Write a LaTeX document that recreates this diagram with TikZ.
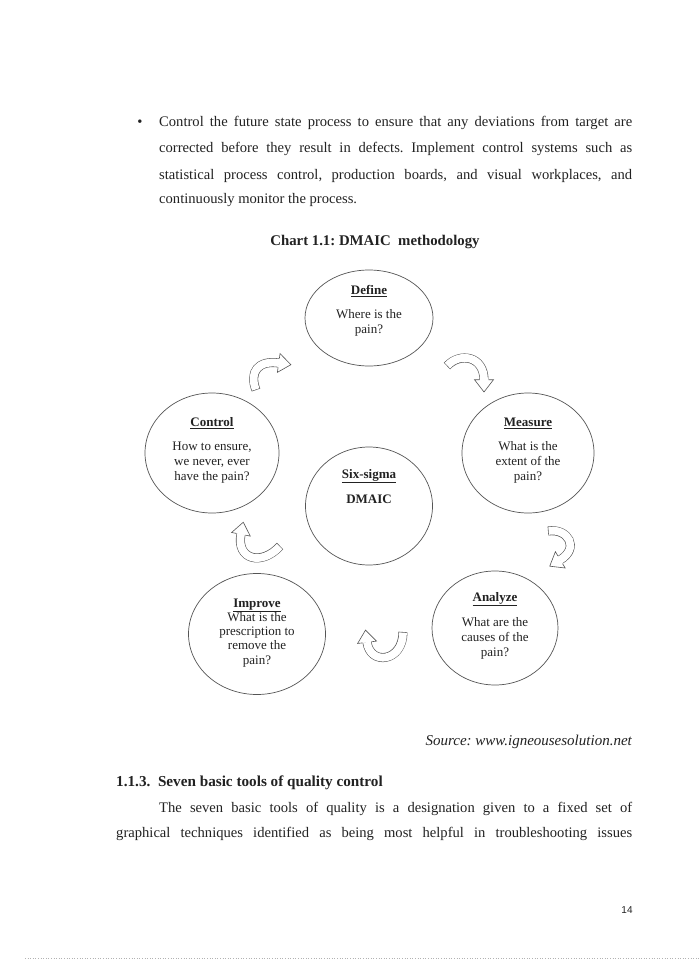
\documentclass[tikz,border=0pt]{standalone}
\usepackage{fontspec}
\setmainfont{Liberation Serif}
\setsansfont{Liberation Sans}
\usetikzlibrary{shapes.geometric}
\definecolor{linegray}{HTML}{555555}
\definecolor{txt}{HTML}{222222}
\newcommand{\blockarr}[8]{%
  \draw[band] (#1,#2) .. controls (#3,#4) and (#5,#6) .. (#7,#8);
  \draw[bandin] (#1,#2) .. controls (#3,#4) and (#5,#6) .. (#7,#8);
  \pgfmathsetmacro\arang{atan2(-((#8)-(#6)),(#7)-(#5))}%
  \begin{scope}[shift={(#7,#8)},rotate=\arang]
    \fill[white] (-0.3,-9.5) -- (12,0) -- (-0.3,9.5) -- cycle;
    \draw[linegray,line width=.6pt,line join=miter] (-0.3,-4.5) -- (-0.3,-9.5) -- (12,0) -- (-0.3,9.5) -- (-0.3,4.5);
  \end{scope}}
\begin{document}
\frenchspacing
\begin{tikzpicture}[x=1pt,y=-1pt,
  ell/.style={ellipse,draw=linegray,line width=.7pt,inner sep=0pt},
  cl/.style={inner sep=0pt,text height=8.5pt,text depth=0pt,font=\fontsize{13}{15}\selectfont,text=txt},
  body/.style={inner sep=0pt,text height=10pt,text depth=0pt,font=\fontsize{14.6}{17}\selectfont,text=txt},
  band/.style={line width=9pt,draw=linegray},
  bandin/.style={line width=7.8pt,draw=white,shorten <=0.6pt}]
\useasboundingbox (0,0) rectangle (700,960);
\fill[white] (0,0) rectangle (700,960);

% body text above
\node[body] (bul) at (140,122) {\textbullet};
\node[body,anchor=west] (b1) at (159,122) {\makebox[473pt][s]{Control the future state process to ensure that any deviations from target are}};
\node[body,anchor=west] (b2) at (159,148) {\makebox[473pt][s]{corrected before they result in defects. Implement control systems such as}};
\node[body,anchor=west] (b3) at (159,174) {\makebox[473pt][s]{statistical process control, production boards, and visual workplaces, and}};
\node[body,anchor=west] (b4) at (159,199) {continuously monitor the process.};
\node[body,font=\fontsize{14.8}{17}\selectfont\bfseries] (title) at (375,240) {Chart 1.1: DMAIC\ \ methodology};

% ellipses
\node[ell,minimum width=128pt,minimum height=96pt] (define) at (369,318) {};
\node[ell,minimum width=132pt,minimum height=120pt] (measure) at (528,453) {};
\node[ell,minimum width=134pt,minimum height=120pt] (control) at (212,453) {};
\node[ell,minimum width=127pt,minimum height=118pt] (six) at (369,506) {};
\node[ell,minimum width=137pt,minimum height=121pt] (improve) at (257,634) {};
\node[ell,minimum width=126pt,minimum height=114pt] (analyze) at (495,628) {};

% texts
\node[cl] (dT) at (369,290) {\underline{\textbf{Define}}};
\node[cl] (d1) at (369,314) {Where is the};
\node[cl] (d2) at (369,329) {pain?};

\node[cl] (mT) at (528,422) {\underline{\textbf{Measure}}};
\node[cl] (m1) at (528,446) {What is the};
\node[cl] (m2) at (528,461) {extent of the};
\node[cl] (m3) at (528,476) {pain?};

\node[cl] (cT) at (212,422) {\underline{\textbf{Control}}};
\node[cl] (c1) at (212,446) {How to ensure,};
\node[cl] (c2) at (212,461) {we never, ever};
\node[cl] (c3) at (212,476) {have the pain?};

\node[cl] (sT) at (369,474) {\underline{\textbf{Six-sigma}}};
\node[cl] (s1) at (369,499) {\textbf{DMAIC}};

\node[cl] (iT) at (257,603) {\underline{\textbf{Improve}}};
\node[cl] (i1) at (257,617) {What is the};
\node[cl] (i2) at (257,631) {prescription\ to};
\node[cl] (i3) at (257,645) {remove the};
\node[cl] (i4) at (257,660) {pain?};

\node[cl] (aT) at (495,597) {\underline{\textbf{Analyze}}};
\node[cl] (a1) at (495,622) {What are the};
\node[cl] (a2) at (495,637) {causes of the};
\node[cl] (a3) at (495,652) {pain?};

% curved block arrows
\blockarr{256}{390}{249}{372}{258}{360}{279}{363}
\blockarr{447}{366}{460}{352}{484}{356}{484}{380}
\blockarr{548}{531}{568}{528}{580}{548}{560}{560}
\blockarr{403}{632}{403}{662}{370}{666}{367}{642}
\blockarr{280}{546}{262}{566}{236}{560}{241}{534}

% lower text
\node[body,anchor=east,font=\fontsize{15}{17}\selectfont\itshape] (src) at (632,740) {Source: www.igneousesolution.net};
\node[body,anchor=west,font=\fontsize{15.2}{17}\selectfont\bfseries] (head) at (116,781) {1.1.3.\ \ Seven basic tools of quality control};
\node[body,anchor=west] (p1) at (159,807) {\makebox[473pt][s]{The seven basic tools of quality is a designation given to a fixed set of}};
\node[body,anchor=west] (p2) at (116,832) {\makebox[516pt][s]{graphical techniques identified as being most helpful in troubleshooting issues}};
\node[inner sep=0pt,font=\sffamily\fontsize{10}{12}\selectfont,text=txt] (pg) at (627,910) {14};
\draw[gray!60,dotted,line width=.6pt] (25,958) -- (700,958);
\end{tikzpicture}
\end{document}
